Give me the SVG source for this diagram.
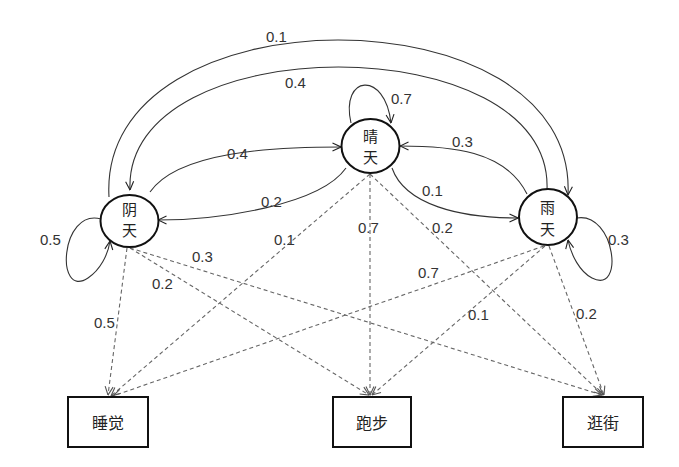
<svg xmlns="http://www.w3.org/2000/svg" width="679" height="467" viewBox="0 0 679 467">
<style>
.node ellipse{fill:#fff;stroke:#111;stroke-width:2}
.box rect{fill:#fff;stroke:#111;stroke-width:2}
.solid{fill:none;stroke:#333;stroke-width:1.1;marker-end:url(#ah)}
.dash{fill:none;stroke:#666;stroke-width:1.1;stroke-dasharray:4 3;marker-end:url(#ahd)}
.lbl{font-family:"Liberation Sans",Arial,sans-serif;font-size:15px;fill:#333}
.cjk{font-family:"Noto Sans CJK SC",sans-serif;font-size:16px;fill:#222;text-anchor:middle;dominant-baseline:central}
.node .cjk{font-size:15px}
</style>
<defs>
<marker id="ah" viewBox="0 0 10 10" refX="9.5" refY="5" markerWidth="10" markerHeight="10" markerUnits="userSpaceOnUse" orient="auto"><path d="M1,1 L9.5,5 L1,9" fill="none" stroke="#222" stroke-width="1.1"/></marker>
<marker id="ahd" viewBox="0 0 10 10" refX="9.5" refY="5" markerWidth="10" markerHeight="10" markerUnits="userSpaceOnUse" orient="auto"><path d="M1,1 L9.5,5 L1,9" fill="none" stroke="#555" stroke-width="1.1" stroke-dasharray="none"/></marker>
</defs>
<rect width="679" height="467" fill="#fff"/>
<g id="connectors">
<path class="solid" d="M109,197 C97,-12 578,-12 568,195"/>
<path class="solid" d="M547,190 C554,26 123,26 130,190"/>
<path class="solid" d="M351,123 C340,75 385,70 391,123"/>
<path class="solid" d="M150,192 C178,152 270,147 341,147"/>
<path class="solid" d="M527,194 C505,150 450,146 400,146"/>
<path class="solid" d="M346,168 C320,205 220,220 158,220"/>
<path class="solid" d="M392,168 C405,205 460,218 518,218"/>
<path class="solid" d="M101,219 C60,208 55,300 88,278 C100,270 108,255 110,241"/>
<path class="solid" d="M577,218 C615,212 625,295 592,278 C580,272 571,255 568,240"/>
<path class="dash" d="M127,248 L108,395"/>
<path class="dash" d="M130,248 L369,395"/>
<path class="dash" d="M130,248 L602,395"/>
<path class="dash" d="M370,174 L111,396"/>
<path class="dash" d="M370,174 L370,395"/>
<path class="dash" d="M370,174 L603,395"/>
<path class="dash" d="M544,246 L113,396"/>
<path class="dash" d="M545,246 L372,395"/>
<path class="dash" d="M549,246 L604,395"/>
<text class="lbl" x="266" y="42">0.1</text>
<text class="lbl" x="285" y="88">0.4</text>
<text class="lbl" x="391" y="104">0.7</text>
<text class="lbl" x="227" y="159">0.4</text>
<text class="lbl" x="452" y="147">0.3</text>
<text class="lbl" x="261" y="207">0.2</text>
<text class="lbl" x="422" y="196">0.1</text>
<text class="lbl" x="40" y="245">0.5</text>
<text class="lbl" x="608" y="245">0.3</text>
<text class="lbl" x="274" y="245">0.1</text>
<text class="lbl" x="358" y="233">0.7</text>
<text class="lbl" x="432" y="233">0.2</text>
<text class="lbl" x="192" y="262">0.3</text>
<text class="lbl" x="152" y="289">0.2</text>
<text class="lbl" x="94" y="328">0.5</text>
<text class="lbl" x="418" y="278">0.7</text>
<text class="lbl" x="468" y="320">0.1</text>
<text class="lbl" x="576" y="319">0.2</text>
</g>
<g id="node-cloudy" class="node">
<ellipse cx="129.5" cy="221" rx="29" ry="26"/>
<text class="cjk" x="129.5" y="208.5">阴</text>
<text class="cjk" x="129.5" y="229.5">天</text>
</g>
<g id="node-sunny" class="node">
<ellipse cx="370.5" cy="146" rx="29" ry="27"/>
<text class="cjk" x="370.5" y="135.5">晴</text>
<text class="cjk" x="370.5" y="156.5">天</text>
</g>
<g id="node-rainy" class="node">
<ellipse cx="548" cy="217" rx="29" ry="28"/>
<text class="cjk" x="547.5" y="206">雨</text>
<text class="cjk" x="547.5" y="228">天</text>
</g>
<g id="node-sleep" class="box">
<rect x="68" y="397" width="80" height="50"/>
<text class="cjk" x="108" y="422">睡觉</text>
</g>
<g id="node-run" class="box">
<rect x="333" y="397" width="78" height="50"/>
<text class="cjk" x="372" y="422">跑步</text>
</g>
<g id="node-shop" class="box">
<rect x="563" y="397" width="80" height="50"/>
<text class="cjk" x="603" y="422">逛街</text>
</g>
</svg>
